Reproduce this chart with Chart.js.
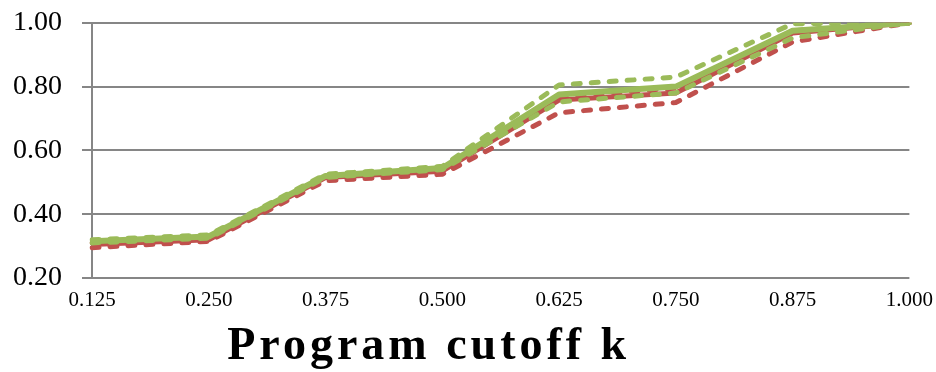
<!DOCTYPE html>
<html>
<head>
<meta charset="utf-8">
<script src="https://cdn.jsdelivr.net/npm/chart.js@4/dist/chart.umd.min.js"></script>
<style>
  html, body { margin: 0; padding: 0; background: #ffffff; }
  #wrap { width: 936px; height: 372px; }
</style>
</head>
<body>
<div id="wrap"><canvas id="c" width="936" height="372"></canvas></div>
<script>
// Program cutoff values on the x axis
const cutoffs = ["0.125", "0.250", "0.375", "0.500", "0.625", "0.750", "0.875", "1.000"];

// Green series: mean with upper / lower band
const greenMean  = [0.315, 0.330, 0.520, 0.545, 0.775, 0.800, 0.975, 1.000];
const greenUpper = [0.320, 0.335, 0.525, 0.550, 0.805, 0.830, 0.997, 1.000];
const greenLower = [0.310, 0.325, 0.515, 0.540, 0.752, 0.780, 0.953, 1.000];

// Red series: mean with upper / lower band
const redMean  = [0.305, 0.320, 0.515, 0.535, 0.758, 0.780, 0.968, 1.000];
const redUpper = [0.310, 0.325, 0.518, 0.540, 0.770, 0.795, 0.975, 1.000];
const redLower = [0.295, 0.315, 0.505, 0.525, 0.718, 0.750, 0.940, 1.000];

const GREEN = "#9BBB59";
const RED = "#C0504D";
const GRID = "#868686";

// Axis title: tracked out a little and set left of the plot centre
const baseDrawTitle = Chart.Scale.prototype.drawTitle;
Chart.CategoryScale.prototype.drawTitle = function () {
  const ctx = this.ctx;
  ctx.save();
  ctx.letterSpacing = "4px";
  ctx.translate(-72, 3);
  baseDrawTitle.call(this);
  ctx.restore();
};

function lineSet(label, data, color, dashed, width, order) {
  return {
    label, data,
    borderColor: color,
    backgroundColor: color,
    borderWidth: width,
    borderDash: dashed ? [7, 11] : [],
    borderCapStyle: dashed ? "round" : "butt",
    borderJoinStyle: "round",
    pointRadius: 0,
    tension: 0,
    fill: false,
    order
  };
}

new Chart(document.getElementById("c"), {
  type: "line",
  data: {
    labels: cutoffs,
    datasets: [
      lineSet("Red lower", redLower, RED, true, 5, 6),
      lineSet("Red upper", redUpper, RED, true, 5, 5),
      lineSet("Red mean", redMean, RED, false, 5, 4),
      lineSet("Green lower", greenLower, GREEN, true, 5, 3),
      lineSet("Green upper", greenUpper, GREEN, true, 5, 2),
      lineSet("Green mean", greenMean, GREEN, false, 6, 1)
    ]
  },
  options: {
    responsive: false,
    animation: false,
    layout: { padding: { top: 0, right: 0, left: 13, bottom: 0 } },
    plugins: {
      legend: { display: false },
      tooltip: { enabled: false }
    },
    scales: {
      x: {
        offset: false,
        grid: { display: false, drawTicks: false },
        border: { display: false },
        afterFit: (scale) => { scale.height = 94; },
        ticks: {
          color: "#000000",
          padding: 3,
          maxRotation: 0,
          autoSkip: false,
          font: { family: "'Liberation Serif', serif", size: 21, lineHeight: 1.9 }
        },
        title: {
          display: true,
          text: "Program cutoff k",
          color: "#000000",
          padding: { top: 0, bottom: 0 },
          font: { family: "'Liberation Serif', serif", size: 46, weight: "bold" }
        }
      },
      y: {
        min: 0.2,
        max: 1.0,
        afterFit: (scale) => { scale.width = 79; },
        grid: {
          color: GRID,
          lineWidth: 2,
          drawTicks: true,
          tickLength: 10,
          tickColor: GRID
        },
        border: { display: true, color: GRID, width: 2 },
        ticks: {
          stepSize: 0.2,
          color: "#000000",
          padding: 6,
          crossAlign: "far",
          font: { family: "'Liberation Serif', serif", size: 28 },
          callback: (v) => Number(v).toFixed(2)
        }
      }
    }
  }
});
</script>
</body>
</html>
